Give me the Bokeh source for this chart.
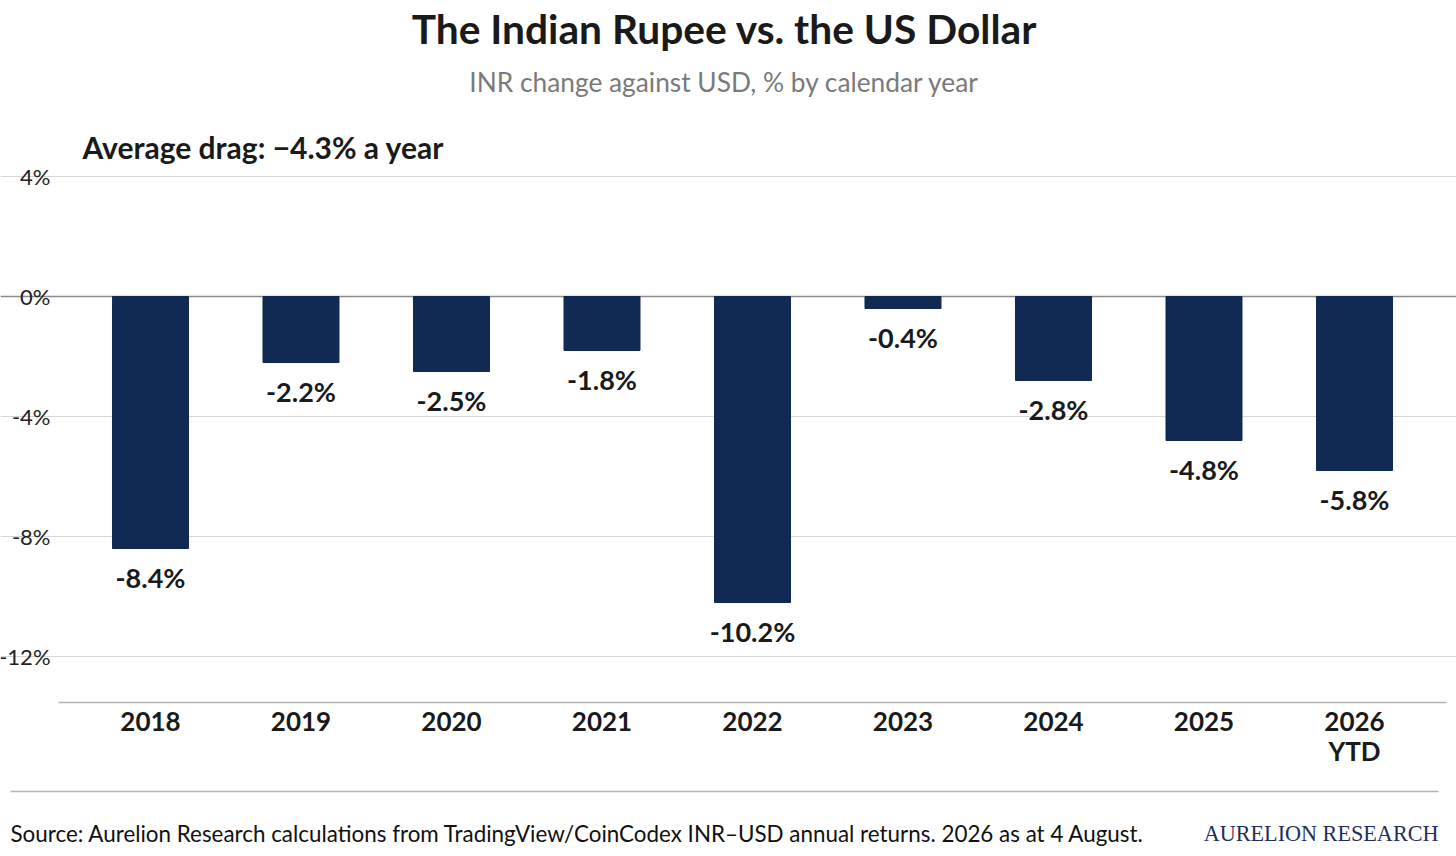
from bokeh.plotting import figure
from bokeh.models import ColumnDataSource, FixedTicker, Grid, Label, Range1d
from bokeh.core.properties import value
from bokeh.embed import file_html
from bokeh.resources import INLINE

years = ["2018", "2019", "2020", "2021", "2022", "2023", "2024", "2025", "2026\nYTD"]
changes = [-8.4, -2.2, -2.5, -1.8, -10.2, -0.4, -2.8, -4.8, -5.8]
y_ticks = [-12, -8, -4, 0, 4]

NAVY = "#102a54"
FONT = "Lato"
W, H = 1456, 856

# page-pixel layout of the plotting area
X0_PX, STEP_PX = 150, 150.5      # first category centre, category spacing
Y4_PX, PX_PER_PCT = 176, 30      # y pixel of the 4% line, px per 1%
LEFT_PX, RIGHT_PX, AXIS_PX = 58, 1446, 702


def dx(px):
    return (px - X0_PX) / STEP_PX


def dy(py):
    return 4 - (py - Y4_PX) / PX_PER_PCT


xs = list(range(len(years)))
src = ColumnDataSource(data=dict(
    x=xs, y=changes, lbl=["%.1f%%" % v for v in changes]))

# the frame covers the whole canvas; the axes are pinned inside it
p = figure(width=W, height=H, output_backend="svg", toolbar_location=None,
           x_range=Range1d(dx(0), dx(W)), y_range=Range1d(dy(H), dy(0)),
           min_border=0)
p.outline_line_color = None

p.vbar(x="x", top="y", bottom=0, width=0.505, color=NAVY, source=src)
p.text(x="x", y="y", text="lbl", source=src, y_offset=29,
       text_align="center", text_baseline="middle",
       text_font=value(FONT), text_font_style="bold",
       text_font_size="27px", text_color="#1a1a1a")

xb = (dx(LEFT_PX), dx(RIGHT_PX))

p.yaxis.fixed_location = dx(LEFT_PX)
p.yaxis.ticker = FixedTicker(ticks=y_ticks)
p.yaxis.major_label_overrides = {t: "%d%%" % t for t in y_ticks}
p.yaxis.axis_line_color = None
p.yaxis.major_tick_line_color = None
p.yaxis.minor_tick_line_color = None
p.yaxis.major_label_text_font = FONT
p.yaxis.major_label_text_font_size = "22px"
p.yaxis.major_label_text_color = "#222222"
p.yaxis.major_label_standoff = 2

p.xaxis.fixed_location = dy(AXIS_PX)
p.xaxis.bounds = xb
p.xaxis.ticker = FixedTicker(ticks=xs)
p.xaxis.major_label_overrides = {i: y for i, y in enumerate(years)}
p.xaxis.axis_line_color = "#b5b5b5"
p.xaxis.axis_line_width = 1.5
p.xaxis.major_tick_line_color = None
p.xaxis.minor_tick_line_color = None
p.xaxis.major_label_text_font = FONT
p.xaxis.major_label_text_font_style = "bold"
p.xaxis.major_label_text_font_size = "26px"
p.xaxis.major_label_text_color = "#1a1a1a"
p.xaxis.major_label_text_line_height = 0.95
p.xaxis.major_label_standoff = -4

p.xgrid.grid_line_color = None
p.ygrid.ticker = FixedTicker(ticks=y_ticks)
p.ygrid.bounds = xb
p.ygrid.grid_line_color = "#d6d6d6"
p.ygrid.grid_line_width = 1.2

p.add_layout(Grid(dimension=1, ticker=FixedTicker(ticks=[0]), bounds=xb,
                  grid_line_color="#8c8c8c", grid_line_width=1.5))

# footer rule
p.segment(x0=[dx(10)], y0=[dy(791)], x1=[dx(1438)], y1=[dy(791)],
          line_color="#b5b5b5", line_width=1.5)


def lab(text, x, y, size, style="normal", color="#1a1a1a", align="left",
        font=FONT):
    # x, y in page pixels from the top-left corner
    p.add_layout(Label(x=x, y=H - y, x_units="screen", y_units="screen", text=text,
                       text_font=font, text_font_size=size, text_font_style=style,
                       text_color=color, text_align=align, text_baseline="middle"))


lab("The Indian Rupee vs. the US Dollar", 724, 28, "40.7px", "bold", align="center")
lab("INR change against USD, % by calendar year", 724, 81, "26.3px",
    color="#7a7a7a", align="center")
lab("Average drag: \u22124.3% a year", 82, 146, "30px", "bold")
lab("Source: Aurelion Research calculations from TradingView/CoinCodex INR\u2013USD "
    "annual returns. 2026 as at 4 August.", 10, 833, "22.4px", color="#111111")
lab("AURELION RESEARCH", 1438, 833, "22.2px", color="#1f2f5c", align="right",
    font="Liberation Serif")

out = open("out.html", "w")
out.write(file_html(p, INLINE))
out.close()
